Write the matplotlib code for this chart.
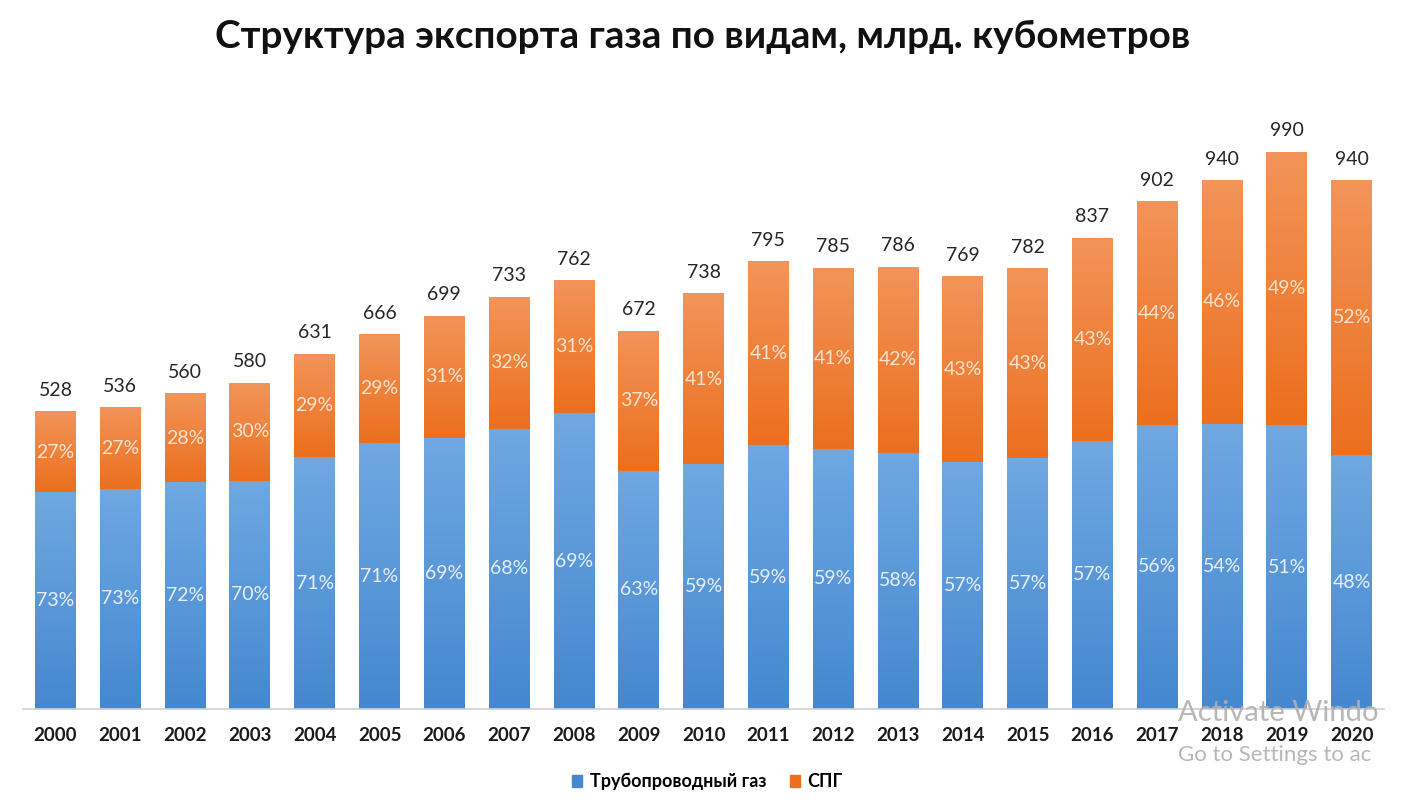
import numpy as np
import matplotlib
matplotlib.use("Agg")
import matplotlib.pyplot as plt
from matplotlib.patches import Rectangle

plt.rcParams["font.family"] = ["Lato", "DejaVu Sans"]

YEARS = [str(y) for y in range(2000, 2021)]
TOTALS = [528, 536, 560, 580, 631, 666, 699, 733, 762, 672, 738,
          795, 785, 786, 769, 782, 837, 902, 940, 990, 940]
PIPE_PCT = [73, 73, 72, 70, 71, 71, 69, 68, 69, 63, 59,
            59, 59, 58, 57, 57, 57, 56, 54, 51, 48]
LNG_PCT = [27, 27, 28, 30, 29, 29, 31, 32, 31, 37, 41,
           41, 41, 42, 43, 43, 43, 44, 46, 49, 52]

TITLE = "Структура экспорта газа по видам, млрд. кубометров"
SERIES = ["Трубопроводный газ", "СПГ"]

BLUE_TOP, BLUE_BOT = "#6FA8E2", "#4588CF"
ORANGE_TOP, ORANGE_BOT = "#F29459", "#EC6F1E"


def gradient_fill(ax, bar, top_color, bot_color):
    """Paint a vertical gradient inside a bar patch."""
    c1 = np.array(matplotlib.colors.to_rgb(bot_color))
    c2 = np.array(matplotlib.colors.to_rgb(top_color))
    t = np.linspace(0, 1, 64)[:, None]
    img = (c1 * (1 - t) + c2 * t)[:, None, :]
    x0, y0 = bar.get_x(), bar.get_y()
    ax.imshow(img, origin="lower", aspect="auto", zorder=2,
              extent=(x0, x0 + bar.get_width(), y0, y0 + bar.get_height()),
              clip_path=bar, clip_on=True, interpolation="bilinear")


def main() -> None:
    fig = plt.figure(figsize=(14.06, 8.10), dpi=100)
    ax = fig.add_axes([0.0164, 0.1247, 0.968, 0.7519])

    totals = np.array(TOTALS, dtype=float)
    pipe = totals * np.array(PIPE_PCT) / 100
    lng = totals - pipe
    x = np.arange(len(YEARS))

    b1 = ax.bar(x, pipe, width=0.63, color=BLUE_BOT, zorder=1)
    b2 = ax.bar(x, lng, bottom=pipe, width=0.63, color=ORANGE_BOT, zorder=1)
    for bar in b1:
        gradient_fill(ax, bar, BLUE_TOP, BLUE_BOT)
    for bar in b2:
        gradient_fill(ax, bar, ORANGE_TOP, ORANGE_BOT)

    for i in range(len(YEARS)):
        ax.text(x[i], pipe[i] / 2, f"{PIPE_PCT[i]}%", ha="center", va="center",
                fontsize=14, color="#E6EFF9", zorder=3)
        ax.text(x[i], pipe[i] + lng[i] / 2, f"{LNG_PCT[i]}%", ha="center",
                va="center", fontsize=14, color="#FBE3CF", zorder=3)
        ax.text(x[i], totals[i] + 38, str(TOTALS[i]), ha="center",
                va="center", fontsize=14, color="#262626", zorder=3)

    ax.set_xlim(-0.5, len(YEARS) - 0.5)
    ax.set_ylim(0, 1083)
    ax.set_xticks(x)
    ax.set_xticklabels(YEARS, fontsize=13.5, fontweight="bold", color="#1A1A1A")
    ax.tick_params(axis="x", length=0, pad=13)
    ax.set_yticks([])
    for side in ["top", "right", "left"]:
        ax.spines[side].set_visible(False)
    ax.spines["bottom"].set_color("#D0D0D0")
    ax.spines["bottom"].set_linewidth(1.2)

    fig.text(0.5, 0.955, TITLE, ha="center", va="center", fontsize=27.8,
             fontweight="bold", color="#111111")

    handles = [Rectangle((0, 0), 1, 1, color=BLUE_BOT),
               Rectangle((0, 0), 1, 1, color=ORANGE_BOT)]
    fig.legend(handles, SERIES, loc="center", bbox_to_anchor=(0.503, 0.035),
               ncol=2, frameon=False, handlelength=0.6, handleheight=0.6,
               handletextpad=0.4, columnspacing=1.3,
               prop={"size": 13, "weight": "bold"})

    # screenshot watermark (cut at the right edge in the source)
    fig.text(0.838, 0.12, "Activate Windo", fontsize=21, color="#B0B0B0",
             ha="left", va="center", alpha=0.9)
    fig.text(0.838, 0.068, "Go to Settings to ac", fontsize=16,
             color="#B0B0B0", ha="left", va="center", alpha=0.9)

    fig.savefig("out.png", dpi=100)
    plt.close(fig)


if __name__ == "__main__":
    main()
